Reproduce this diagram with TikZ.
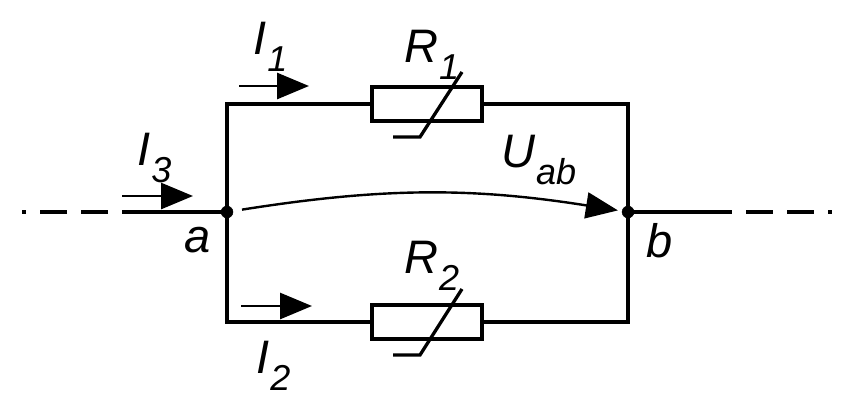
\documentclass[tikz,border=0pt]{standalone}
\usepackage{fontspec}
\setmainfont{Liberation Sans}
\usetikzlibrary{arrows.meta,positioning}

\newcommand{\lbl}[2]{{\itshape #1\kern1pt\raisebox{-17pt}{\fontsize{36}{36}\selectfont #2}}}

\begin{document}
\begin{tikzpicture}[x=1pt, y=-1pt,
	wire/.style={line width=3.3pt},
	point/.style={shape=circle,draw,fill,minimum size=12pt,inner sep=0},
	res/.style={draw,line width=3.3pt,minimum width=110pt,minimum height=34pt,inner sep=0},
	lead/.style={line width=3.3pt, dash pattern=on 27pt off 14pt, dash phase=27pt},
	cur/.style={line width=2.8pt,-{Triangle[length=32pt,width=26pt]}},
	txt/.style={anchor=base west,inner sep=0,font=\fontsize{47}{47}\selectfont\itshape},
	>=latex]
	\useasboundingbox (0,0) rectangle (858,407);
	\node[point] (a) at (227,212) {};
	\node[point] (b) at (628,212) {};
	\node[res] (R1) at (427,104) {};
	\node[res] (R2) at (427,322) {};
	\coordinate (inL) at (122,212);
	\coordinate (endL) at (22,212);
	\coordinate (outR) at (732,212);
	\coordinate (endR) at (832,212);
	% wires
	\draw[wire] (a.center) |- (R1.west);
	\draw[wire] (R1.east) -| (b.center);
	\draw[wire] (a.center) |- (R2.west);
	\draw[wire] (R2.east) -| (b.center);
	\draw[wire] (inL) -- (a.center);
	\draw[wire] (b.center) -- (outR);
	\draw[lead] (inL) -- (endL);
	\draw[lead] (outR) -- (endR);
	% variable resistors
	\draw[wire] (393,137) -- (420,137) -- (462,72);
	\draw[wire] (393,355) -- (420,355) -- (462,289);
	% currents
	\coordinate (i1s) at (239,86);
	\coordinate (i1e) at (309,86);
	\coordinate (i2s) at (241,306);
	\coordinate (i2e) at (312,306);
	\coordinate (i3s) at (122,196);
	\coordinate (i3e) at (193,196);
	\draw[cur] (i1s) -- (i1e);
	\draw[cur] (i2s) -- (i2e);
	\draw[cur] (i3s) -- (i3e);
	\draw[cur, line width=2.4pt, shorten <=9pt, shorten >=4pt] (a) to[bend left=9] (b);
	% labels
	\node[txt] (lI1) at (253,54) {\lbl{I}{1}};
	\node[txt] (lI2) at (256,373) {\lbl{I}{2}};
	\node[txt] (lI3) at (137,165) {\lbl{I}{3}};
	\node[txt] (lR1) at (404,62) {\lbl{R}{1}};
	\node[txt] (lR2) at (404,273) {\lbl{R}{2}};
	\node[txt] (lU) at (501,167) {\lbl{U}{ab}};
	\node[txt] (la) at (184,252) {a};
	\node[txt] (lb) at (646,257) {b};
\end{tikzpicture}
\end{document}
